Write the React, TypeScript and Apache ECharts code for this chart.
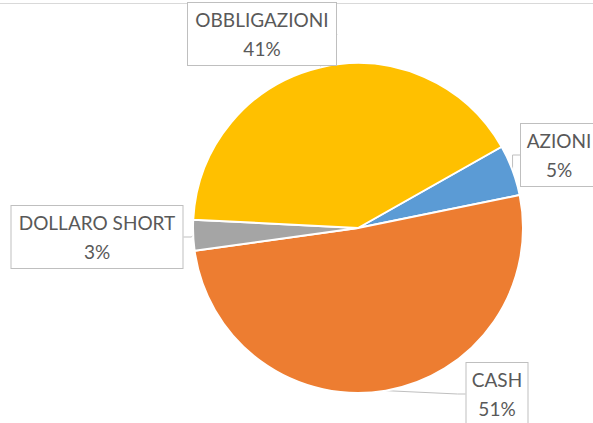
import React, { useEffect, useRef } from "react";
import * as echarts from "echarts";

const categories = ["AZIONI", "CASH", "DOLLARO SHORT", "OBBLIGAZIONI"];
const values = [5, 51, 3, 41];
const colors = ["#5B9BD5", "#ED7D31", "#A5A5A5", "#FFC000"];

// label box centers and text widths (layout only)
const labelCenters: Record<string, [number, number]> = {
  AZIONI: [559, 155],
  CASH: [497, 394],
  "DOLLARO SHORT": [97, 237],
  OBBLIGAZIONI: [262, 34],
};
const labelWidths: Record<string, number> = {
  AZIONI: 62,
  CASH: 47,
  "DOLLARO SHORT": 157,
  OBBLIGAZIONI: 134,
};

export default function App() {
  const ref = useRef<HTMLDivElement>(null);
  useEffect(() => {
    if (!ref.current) return;
    const chart = echarts.init(ref.current, undefined, { renderer: "svg" });
    chart.setOption({
      animation: false,
      backgroundColor: "#ffffff",
      textStyle: { fontFamily: "Lato" },
      graphic: [
        {
          type: "line",
          shape: { x1: 0, y1: 3.5, x2: 593, y2: 3.5 },
          style: { stroke: "#D9D9D9", lineWidth: 1 },
          z: 0,
        },
      ],
      series: [
        {
          type: "pie",
          center: [358, 228],
          radius: 165,
          startAngle: 29.5,
          clockwise: true,
          percentPrecision: 0,
          itemStyle: { borderColor: "#ffffff", borderWidth: 2 },
          data: categories.map((c, i) => ({
            name: c,
            value: values[i],
            itemStyle: { color: colors[i] },
            label: { width: labelWidths[c] },
          })),
          label: {
            show: true,
            position: "outside",
            overflow: "none",
            formatter: "{b}\n{d}%",
            color: "#595959",
            fontFamily: "Lato",
            fontSize: 19,
            lineHeight: 29,
            align: "center",
            backgroundColor: "#ffffff",
            borderColor: "#BFBFBF",
            borderWidth: 1,
            padding: [2, 7, 2, 7],
          },
          labelLine: {
            show: true,
            length: 8,
            length2: 8,
            lineStyle: { color: "#BFBFBF", width: 1 },
          },
          labelLayout: (params: any) => {
            const name = categories[params.dataIndex];
            const c = labelCenters[name];
            return {
              x: c[0],
              y: c[1],
              align: "center",
              verticalAlign: "middle",
              hideOverlap: false,
              moveOverlap: false,
            };
          },
          emphasis: { disabled: true },
        },
      ],
    });
    return () => chart.dispose();
  }, []);
  return (
    <div
      ref={ref}
      style={{ position: "fixed", left: 0, top: 0, width: 593, height: 423 }}
    />
  );
}
